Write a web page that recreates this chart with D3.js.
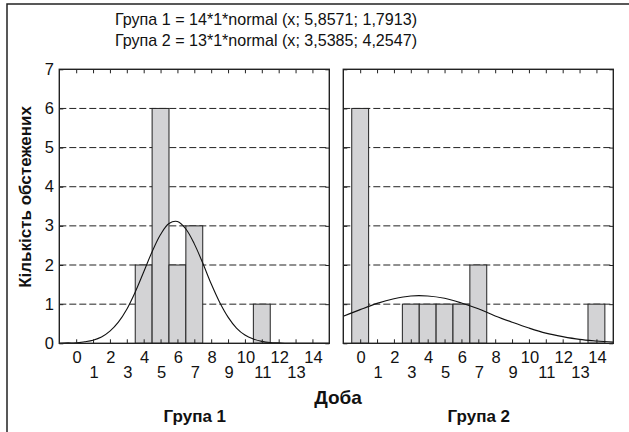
<!DOCTYPE html>
<html>
<head>
<meta charset="utf-8">
<script src="https://cdn.jsdelivr.net/npm/d3@7"></script>
<style>
  body { margin: 0; background: #fff; }
  svg { display: block; font-family: "Liberation Sans", Arial, sans-serif; }
</style>
</head>
<body>
<div id="chart"></div>
<script>
// day categories and counts per group
const days = [0, 1, 2, 3, 4, 5, 6, 7, 8, 9, 10, 11, 12, 13, 14];
const group1Counts = [0, 0, 0, 0, 2, 6, 2, 3, 0, 0, 0, 1, 0, 0, 0];
const group2Counts = [6, 0, 0, 1, 1, 1, 1, 2, 0, 0, 0, 0, 0, 0, 1];
const yTicks = [0, 1, 2, 3, 4, 5, 6, 7];
const gridLevels = [1, 2, 3, 4, 5, 6];

// fitted normal curves
const group1CurveX = [-1, -0.5, 0, 0.5, 1, 1.5, 2, 2.5, 3, 3.5, 4, 4.5, 5, 5.5, 6, 6.5, 7, 7.5, 8, 8.5, 9, 9.5, 10, 10.5, 11, 11.5, 12, 12.5, 13, 13.5, 14, 14.5, 15];
const group1CurveY = [0, 0.01, 0.01, 0.04, 0.08, 0.16, 0.31, 0.54, 0.87, 1.31, 1.82, 2.34, 2.78, 3.06, 3.11, 2.92, 2.54, 2.05, 1.52, 1.05, 0.67, 0.39, 0.21, 0.11, 0.05, 0.02, 0.01, 0, 0, 0, 0, 0, 0];
const group2CurveX = [-1, 0, 1, 2, 3, 4, 5, 6, 7, 8, 9, 10, 11, 12, 13, 14, 15];
const group2CurveY = [0.69, 0.86, 1.02, 1.14, 1.21, 1.21, 1.15, 1.03, 0.88, 0.70, 0.54, 0.39, 0.26, 0.17, 0.10, 0.06, 0.03];

const titleLines = [
  "Група 1 = 14*1*normal (x; 5,8571; 1,7913)",
  "Група 2 = 13*1*normal (x; 3,5385; 4,2547)"
];
const groupNames = ["Група 1", "Група 2"];

const W = 629, H = 432;
const plotTop = 69.3, plotBottom = 343.3;
const panelLeft = [59.3, 343.3];
const panelW = 270;

const svg = d3.select("#chart").append("svg")
  .attr("width", W)
  .attr("height", H);

// outer frame (only top/left visible)
svg.append("path")
  .attr("d", "M7,436V4H634")
  .attr("fill", "none")
  .attr("stroke", "#222")
  .attr("stroke-width", 1.5);

// title, slightly condensed like the original
svg.selectAll(".title")
  .data(titleLines)
  .enter()
  .append("text")
  .attr("x", 266)
  .attr("y", (d, i) => 24.5 + i * 21.5)
  .attr("text-anchor", "middle")
  .attr("textLength", 302)
  .attr("lengthAdjust", "spacingAndGlyphs")
  .style("font-size", "17px")
  .attr("fill", "#111")
  .text(d => d);

var yScale = d3.scaleLinear().domain([0, 7]).range([plotBottom, plotTop]);

const panels = [
  { counts: group1Counts, cx: group1CurveX, cy: group1CurveY },
  { counts: group2Counts, cx: group2CurveX, cy: group2CurveY }
];

panels.forEach((p, pi) => {
  var xScale = d3.scaleLinear().domain([-1, 15]).range([panelLeft[pi], panelLeft[pi] + panelW]);
  var g = svg.append("g");

  // dashed gridlines
  g.selectAll(".grid")
    .data(gridLevels)
    .enter()
    .append("line")
    .attr("x1", xScale(-1))
    .attr("x2", xScale(15))
    .attr("y1", d => yScale(d))
    .attr("y2", d => yScale(d))
    .attr("stroke", "#222")
    .attr("stroke-width", 1)
    .attr("stroke-dasharray", "7,3");

  // bars
  var data = days.map((d, i) => ({ day: d, count: p.counts[i] })).filter(d => d.count > 0);
  g.selectAll("rect")
    .data(data)
    .enter()
    .append("rect")
    .attr("x", d => xScale(d.day - 0.5))
    .attr("y", d => yScale(d.count))
    .attr("width", d => xScale(d.day + 0.5) - xScale(d.day - 0.5))
    .attr("height", d => yScale(0) - yScale(d.count))
    .attr("fill", "#d3d3d5")
    .attr("stroke", "#222")
    .attr("stroke-width", 1);

  // fitted curve
  var clipId = "clip" + pi;
  svg.append("clipPath").attr("id", clipId)
    .append("rect")
    .attr("x", xScale(-1)).attr("y", plotTop)
    .attr("width", panelW).attr("height", plotBottom - plotTop);

  var line = d3.line()
    .x((d, i) => xScale(p.cx[i]))
    .y(d => yScale(d))
    .curve(d3.curveCatmullRom);
  g.append("path")
    .datum(p.cy)
    .attr("d", line)
    .attr("clip-path", "url(#" + clipId + ")")
    .attr("fill", "none")
    .attr("stroke", "#111")
    .attr("stroke-width", 1.1);

  // inside tick marks on all four sides
  g.append("g")
    .attr("transform", "translate(0," + plotBottom + ")")
    .call(d3.axisBottom(xScale).tickValues(days).tickSize(-4).tickFormat(""));
  g.append("g")
    .attr("transform", "translate(0," + plotTop + ")")
    .call(d3.axisTop(xScale).tickValues(days).tickSize(-4).tickFormat(""));
  g.append("g")
    .attr("transform", "translate(" + xScale(-1) + ",0)")
    .call(d3.axisLeft(yScale).tickValues(yTicks).tickSize(-4).tickFormat(""));
  g.append("g")
    .attr("transform", "translate(" + xScale(15) + ",0)")
    .call(d3.axisRight(yScale).tickValues(yTicks).tickSize(-4).tickFormat(""));
  g.selectAll(".domain").remove();
  g.selectAll(".tick line").attr("stroke", "#222").attr("stroke-width", 1);

  // panel frame
  g.append("rect")
    .attr("x", xScale(-1)).attr("y", plotTop)
    .attr("width", panelW).attr("height", plotBottom - plotTop)
    .attr("fill", "none")
    .attr("stroke", "#222")
    .attr("stroke-width", 1.4);

  // x tick labels, staggered in two rows
  g.selectAll(".xl")
    .data(days)
    .enter()
    .append("text")
    .attr("x", d => xScale(d) + 1)
    .attr("y", d => (d % 2 === 0 ? 362.5 : 378))
    .attr("text-anchor", "middle")
    .style("font-size", "16.5px")
    .attr("fill", "#111")
    .text(d => d);

  // group name
  svg.append("text")
    .attr("x", xScale(7) + 0.5)
    .attr("y", 422)
    .attr("text-anchor", "middle")
    .style("font-size", "17px")
    .style("font-weight", "bold")
    .attr("fill", "#111")
    .text(groupNames[pi]);
});

// y tick labels (left panel only)
svg.selectAll(".yl")
  .data(yTicks)
  .enter()
  .append("text")
  .attr("x", 54)
  .attr("y", d => yScale(d) + 5.5)
  .attr("text-anchor", "end")
  .style("font-size", "16.5px")
  .attr("fill", "#111")
  .text(d => d);

// axis titles
svg.append("text")
  .attr("x", 338)
  .attr("y", 404)
  .attr("text-anchor", "middle")
  .style("font-size", "19px")
  .style("font-weight", "bold")
  .attr("fill", "#111")
  .text("Доба");

svg.append("text")
  .attr("transform", "translate(31,197) rotate(-90)")
  .attr("text-anchor", "middle")
  .style("font-size", "17px")
  .style("font-weight", "bold")
  .attr("fill", "#111")
  .text("Кількість обстежених");
</script>
</body>
</html>
